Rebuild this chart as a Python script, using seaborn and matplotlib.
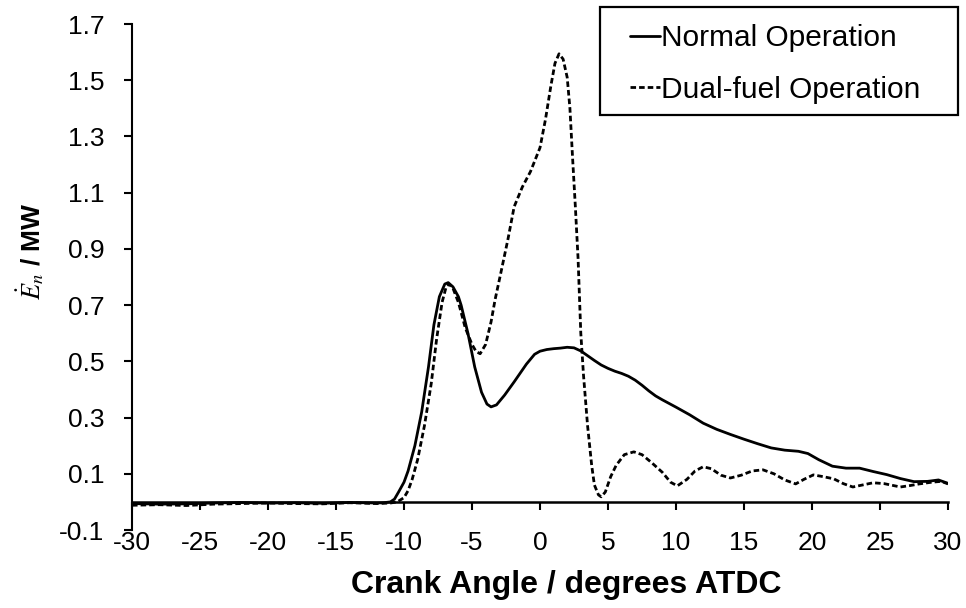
import matplotlib
matplotlib.use("Agg")
import matplotlib.pyplot as plt
from matplotlib.patches import Rectangle
import pandas as pd
import seaborn as sns

# Crank angle (degrees ATDC) and net energy release rate (MW), normal operation
normal_angle = [-30, -28, -26, -24, -22, -20, -18, -16, -14, -12, -11.5, -11.0,
                -10.7, -10.4, -10.0, -9.7, -9.2, -8.7, -8.2, -7.8, -7.4, -7.0,
                -6.75, -6.4, -6.0, -5.8, -5.3, -4.8, -4.3, -3.9, -3.6, -3.2,
                -2.6, -1.9, -1.0, -0.4, 0.0, 0.5, 1.0, 1.5, 2.0, 2.5, 3.0, 3.5,
                4.0, 4.5, 5.0, 5.5, 6.0, 6.5, 7.0, 7.5, 8.0, 8.5, 9.0, 10.0,
                11.0, 12.0, 13.0, 14.0, 15.0, 16.0, 17.0, 18.0, 19.0, 19.7,
                20.5, 21.5, 22.5, 23.5, 24.5, 25.5, 26.5, 27.5, 28.5, 29.3, 30.0]
normal_power = [-0.006, -0.008, -0.007, -0.004, -0.002, -0.004, -0.003, -0.005,
                -0.002, -0.004, -0.003, 0.0, 0.01, 0.035, 0.07, 0.11, 0.2, 0.32,
                0.48, 0.63, 0.73, 0.775, 0.78, 0.765, 0.73, 0.70, 0.6, 0.48,
                0.39, 0.348, 0.338, 0.345, 0.38, 0.427, 0.49, 0.525, 0.536,
                0.542, 0.545, 0.547, 0.55, 0.548, 0.537, 0.52, 0.503, 0.487,
                0.475, 0.465, 0.457, 0.447, 0.433, 0.415, 0.395, 0.377, 0.363,
                0.337, 0.31, 0.28, 0.258, 0.24, 0.223, 0.207, 0.192, 0.184,
                0.18, 0.172, 0.15, 0.127, 0.12, 0.12, 0.108, 0.097, 0.083,
                0.072, 0.073, 0.078, 0.066]

# Crank angle (degrees ATDC) and net energy release rate (MW), dual-fuel operation
dual_angle = [-30, -28, -26, -24, -22, -20, -18, -16, -14, -12, -11.0, -10.5,
              -10.0, -9.7, -9.4, -9.0, -8.5, -8.0, -7.6, -7.2, -6.9, -6.7,
              -6.4, -6.0, -5.5, -5.0, -4.7, -4.4, -4.0, -3.6, -3.3, -2.9,
              -2.35, -1.9, -1.3, -0.7, 0.0, 0.4, 0.8, 1.1, 1.4, 1.7, 2.0, 2.2,
              2.4, 2.6, 2.8, 3.0, 3.2, 3.5, 3.8, 4.0, 4.3, 4.5, 4.8, 5.2, 5.6,
              6.2, 6.9, 7.5, 8.2, 9.0, 9.6, 10.1, 10.8, 11.4, 12.0, 12.6,
              13.3, 14.0, 14.8, 15.6, 16.4, 17.2, 18.0, 18.8, 19.4, 20.1,
              20.8, 21.6, 22.3, 23.0, 23.7, 24.5, 25.3, 26.0, 26.5, 27.2,
              27.9, 28.8, 29.5, 30.0]
dual_power = [-0.012, -0.01, -0.013, -0.008, -0.006, -0.004, -0.006, -0.007,
              -0.003, -0.006, -0.004, 0.0, 0.015, 0.04, 0.08, 0.15, 0.27, 0.42,
              0.58, 0.71, 0.765, 0.775, 0.76, 0.71, 0.62, 0.56, 0.535, 0.527,
              0.56, 0.64, 0.72, 0.81, 0.936, 1.05, 1.12, 1.175, 1.26, 1.36,
              1.48, 1.56, 1.594, 1.575, 1.51, 1.40, 1.22, 1.05, 0.865, 0.6,
              0.45, 0.27, 0.13, 0.06, 0.025, 0.018, 0.035, 0.09, 0.13, 0.168,
              0.178, 0.168, 0.14, 0.105, 0.07, 0.057, 0.08, 0.11, 0.125, 0.118,
              0.095, 0.085, 0.095, 0.11, 0.114, 0.1, 0.078, 0.064, 0.08, 0.096,
              0.09, 0.082, 0.065, 0.053, 0.06, 0.068, 0.065, 0.058, 0.053,
              0.058, 0.064, 0.07, 0.073, 0.064]

series_labels = ["Normal Operation", "Dual-fuel Operation"]
x_ticks = [-30, -25, -20, -15, -10, -5, 0, 5, 10, 15, 20, 25, 30]
y_ticks = [-0.1, 0.1, 0.3, 0.5, 0.7, 0.9, 1.1, 1.3, 1.5, 1.7]

df = pd.concat([
    pd.DataFrame({"angle": normal_angle, "power": normal_power, "mode": series_labels[0]}),
    pd.DataFrame({"angle": dual_angle, "power": dual_power, "mode": series_labels[1]}),
], ignore_index=True)

sns.set_theme(style="white")
plt.rcParams["font.family"] = ["Liberation Sans", "DejaVu Sans"]
plt.rcParams["mathtext.fontset"] = "stix"
plt.rcParams["text.color"] = "black"
plt.rcParams["axes.labelcolor"] = "black"

W, H = 966, 608
fig = plt.figure(figsize=(W / 100, H / 100), dpi=100)
ax = fig.add_axes([132 / W, 78 / H, 816 / W, 506 / H])

sns.lineplot(data=df, x="angle", y="power", style="mode",
             dashes={series_labels[0]: "", series_labels[1]: (2.0, 1.1)},
             color="black", linewidth=2.0, estimator=None, sort=False, ax=ax)

ax.set_xlim(-30, 30)
ax.set_ylim(-0.1, 1.7)
ax.set_xticks(x_ticks)
ax.set_yticks(y_ticks)
ax.set_xticklabels([str(t) for t in x_ticks])
ax.set_yticklabels([f"{t:.1f}" for t in y_ticks])

for side in ("top", "right"):
    ax.spines[side].set_visible(False)
ax.spines["bottom"].set_position(("data", 0))
ax.spines["bottom"].set_linewidth(1.8)
ax.spines["left"].set_linewidth(1.5)
for side in ("bottom", "left"):
    ax.spines[side].set_color("black")

ax.tick_params(axis="x", direction="out", length=6, width=1.5, pad=15,
               labelsize=19, colors="black", bottom=True)
ax.tick_params(axis="y", direction="out", length=6, width=1.5, pad=14,
               labelsize=19, colors="black", left=True)

ax.set_xlabel("Crank Angle / degrees ATDC", fontsize=23, fontweight="bold")
ax.xaxis.set_label_coords((566 - 132) / 816, (530 - 585) / 506)
ax.xaxis.label.set_va("center")

ax.set_ylabel(r"$\dot{E}_n$ / MW", fontsize=19, fontweight="bold")
ax.yaxis.set_label_coords((30 - 132) / 816, (530 - 251) / 506)
ax.yaxis.label.set_va("center")

# Legend entries without their own frame; the box is drawn separately
handles, labels = ax.get_legend_handles_labels()
leg = ax.legend(handles, labels, loc="upper left",
                bbox_to_anchor=(630 / W, 1 - 24 / H), bbox_transform=fig.transFigure,
                borderaxespad=0, borderpad=0, frameon=False, fontsize=21.5,
                handlelength=1.0, handletextpad=0.05, labelspacing=0.8)
for line in leg.get_lines():
    line.set_linewidth(2.0)
fig.add_artist(Rectangle((600 / W, 1 - 115 / H), 358 / W, 108 / H,
                         transform=fig.transFigure, fill=False,
                         edgecolor="black", linewidth=1.6))

fig.savefig("out.png", dpi=100)
